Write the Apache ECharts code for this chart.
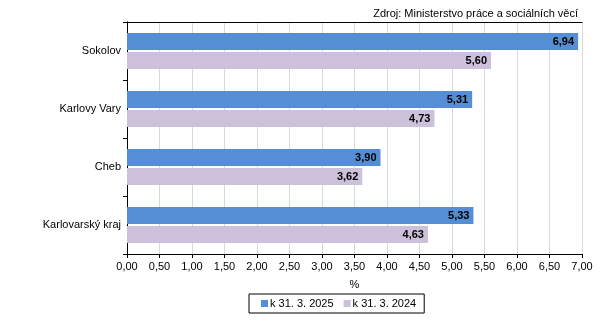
<!DOCTYPE html>
<html><head><meta charset="utf-8">
<script src="https://cdn.jsdelivr.net/npm/echarts@6/dist/echarts.min.js"></script>
<style>html,body{margin:0;padding:0;background:#fff}#c{width:614px;height:323px}</style>
</head><body><div id="c"></div>
<script>
const categories = ['Sokolov', 'Karlovy Vary', 'Cheb', 'Karlovarský kraj'];
const seriesNames = ['k 31. 3. 2025', 'k 31. 3. 2024'];
const values2025 = [6.94, 5.31, 3.90, 5.33];
const values2024 = [5.60, 4.73, 3.62, 4.63];
const sourceText = 'Zdroj: Ministerstvo práce a sociálních věcí';
const axisTitle = '%';

const fmt = v => Number(v).toFixed(2).replace('.', ',');
const font = 'Arial, "Liberation Sans", sans-serif';
const chart = echarts.init(document.getElementById('c'));
const labelCfg = {show: true, position: 'insideRight', distance: 4, color: '#000', fontWeight: 'bold', fontSize: 11, fontFamily: font, formatter: p => fmt(p.value)};
chart.setOption({
  animation: false,
  textStyle: {fontFamily: font},
  title: {text: sourceText, right: 31, top: 3, textStyle: {fontSize: 11, fontWeight: 'normal', color: '#000', fontFamily: font}},
  grid: {left: 127, right: 32, top: 22, bottom: 69, containLabel: false},
  xAxis: [{
    type: 'value', min: 0, max: 7, interval: 0.5,
    name: axisTitle, nameLocation: 'middle', nameGap: 25,
    nameTextStyle: {color: '#000', fontSize: 11, fontFamily: font},
    axisLine: {show: true, lineStyle: {color: '#000'}},
    axisTick: {show: true, length: 4, lineStyle: {color: '#000'}},
    axisLabel: {color: '#000', fontSize: 11, margin: 7, formatter: fmt, fontFamily: font},
    splitLine: {show: true, lineStyle: {color: '#d9d9d9'}}
  }, {
    type: 'value', position: 'top', min: 0, max: 7, interval: 0.5,
    axisLine: {show: true, lineStyle: {color: '#000'}},
    axisTick: {show: false}, axisLabel: {show: false}, splitLine: {show: false}
  }],
  yAxis: [{
    type: 'category', data: categories, inverse: true,
    axisLine: {show: true, lineStyle: {color: '#000'}},
    axisTick: {show: true, length: 4, lineStyle: {color: '#000'}},
    axisLabel: {color: '#000', fontSize: 11, margin: 6, fontFamily: font}
  }, {
    type: 'category', data: categories, inverse: true, position: 'right',
    axisLine: {show: true, lineStyle: {color: '#000'}},
    axisTick: {show: false}, axisLabel: {show: false}, splitLine: {show: false}
  }],
  legend: {
    bottom: 10, left: 249, itemWidth: 7, itemHeight: 7, itemGap: 10,
    borderColor: '#000', borderWidth: 1, padding: [4, 8, 4, 12],
    textStyle: {color: '#000', fontSize: 11, fontFamily: font, padding: [0, 0, 0, -3]},
    icon: 'rect', data: seriesNames
  },
  series: [
    {name: seriesNames[0], type: 'bar', data: values2025, barWidth: 17, barGap: '12%', barCategoryGap: '38%', itemStyle: {color: '#558ed5'}, label: labelCfg},
    {name: seriesNames[1], type: 'bar', data: values2024, barWidth: 17, barGap: '12%', barCategoryGap: '38%', itemStyle: {color: '#ccc0da'}, label: labelCfg}
  ]
});
</script></body></html>
